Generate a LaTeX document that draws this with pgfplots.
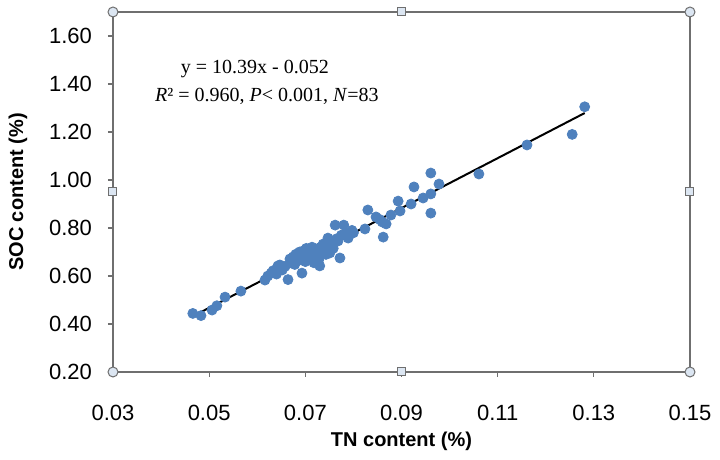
\documentclass[border=0pt]{standalone}
\usepackage{fontspec}
\setmainfont{Liberation Sans}
\newfontfamily\timesfont{Liberation Serif}
\usepackage{pgfplots}
\pgfplotsset{compat=1.18}
\definecolor{ptblue}{HTML}{4F81BD}
\definecolor{framegray}{HTML}{6F6F6F}
\definecolor{handlefill}{HTML}{DCE6F2}
\pgfplotstableread{
x y
0.0466 0.444
0.0483 0.435
0.0506 0.458
0.0516 0.476
0.0533 0.512
0.0566 0.537
0.0616 0.583
0.0622 0.600
0.0629 0.612
0.0633 0.622
0.0640 0.608
0.0643 0.642
0.0647 0.646
0.0652 0.625
0.0658 0.640
0.0664 0.585
0.0668 0.671
0.0670 0.655
0.0675 0.680
0.0678 0.648
0.0680 0.690
0.0683 0.692
0.0686 0.665
0.0688 0.700
0.0690 0.675
0.0693 0.612
0.0695 0.704
0.0697 0.685
0.0700 0.660
0.0702 0.715
0.0705 0.695
0.0707 0.680
0.0710 0.700
0.0712 0.670
0.0714 0.720
0.0716 0.690
0.0718 0.655
0.0720 0.705
0.0722 0.680
0.0724 0.712
0.0726 0.695
0.0728 0.668
0.0730 0.642
0.0732 0.720
0.0735 0.700
0.0737 0.733
0.0740 0.710
0.0743 0.690
0.0747 0.758
0.0749 0.725
0.0751 0.696
0.0755 0.740
0.0758 0.715
0.0762 0.812
0.0765 0.755
0.0768 0.746
0.0772 0.675
0.0775 0.770
0.0780 0.812
0.0785 0.775
0.0789 0.758
0.0797 0.790
0.0800 0.780
0.0824 0.796
0.0830 0.875
0.0847 0.846
0.0855 0.835
0.0860 0.825
0.0862 0.762
0.0868 0.817
0.0878 0.854
0.0893 0.912
0.0897 0.871
0.0920 0.900
0.0926 0.971
0.0945 0.925
0.0961 1.029
0.0961 0.942
0.0961 0.862
0.0978 0.983
0.1061 1.025
0.1161 1.146
0.1255 1.190
0.1281 1.305
}\soc
\begin{document}
\begin{tikzpicture}[x=1pt,y=1pt,
  hcirc/.style={circle, draw=framegray, fill=handlefill, line width=0.5pt, minimum size=5pt, inner sep=0pt},
  hsq/.style={rectangle, draw=framegray, fill=handlefill, line width=0.5pt, minimum size=4pt, inner sep=0pt}]
\useasboundingbox (-56.5,-44) rectangle (303.5,186);
\begin{axis}[
  at={(0,0)}, anchor=south west,
  scale only axis, width=288.5pt, height=180pt,
  xmin=0.03, xmax=0.15, ymin=0.2, ymax=1.7,
  xtick={0.03,0.05,0.07,0.09,0.11,0.13,0.15},
  ytick={0.2,0.4,0.6,0.8,1.0,1.2,1.4,1.6},
  tick align=outside, tick pos=left,
  major tick length=2.5pt,
  tick style={framegray, line width=0.6pt},
  axis line style={framegray, line width=0.9pt},
  ticklabel style={font=\fontsize{11}{13}\selectfont},
  xticklabel style={yshift=-10.5pt},
  yticklabel style={xshift=-4.5pt},
  /pgf/number format/.cd, fixed, fixed zerofill, precision=2, assume math mode=true,
  /pgfplots/.cd,
  xlabel={\bfseries TN content (\%)},
  ylabel={\bfseries SOC content (\%)},
  every axis x label/.style={at={(axis description cs:0.5,-0.1917)}, anchor=center, font=\fontsize{10}{12}\selectfont},
  every axis y label/.style={at={(axis description cs:-0.1646,0.5)}, anchor=center, rotate=90, font=\fontsize{10}{12}\selectfont},
  clip=false,
]
\addplot[only marks, mark=*, mark size=2.5pt, mark options={draw=ptblue, fill=ptblue}] table[x=x, y=y] {\soc};
\addplot[black, line width=1pt] coordinates {(0.0466,0.432) (0.1281,1.279)};
\node[font=\timesfont\fontsize{10}{12}\selectfont] at (axis cs:0.0595,1.4625) {y = 10.39x - 0.052};
\node[font=\timesfont\fontsize{10}{12}\selectfont] at (axis cs:0.0620,1.35) {\textit{R}² = 0.960, \textit{P}< 0.001, \textit{N}=83};
\node[hcirc] at (rel axis cs:0,0) {};
\node[hcirc] at (rel axis cs:1,0) {};
\node[hcirc] at (rel axis cs:0,1) {};
\node[hcirc] at (rel axis cs:1,1) {};
\node[hsq] at (rel axis cs:0.5,0) {};
\node[hsq] at (rel axis cs:0.5,1) {};
\node[hsq] at (rel axis cs:0,0.5) {};
\node[hsq] at (rel axis cs:1,0.5) {};
\end{axis}
\end{tikzpicture}
\end{document}
